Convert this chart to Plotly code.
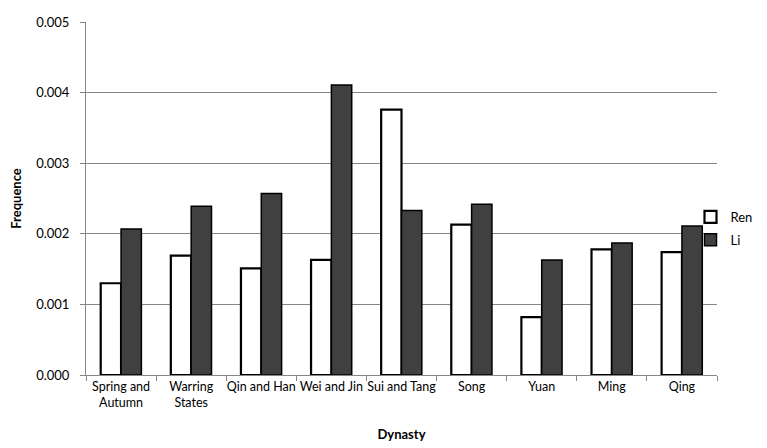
import plotly.graph_objects as go

categories = ["Spring and<br>Autumn", "Warring<br>States", "Qin and Han", "Wei and Jin",
              "Sui and Tang", "Song", "Yuan", "Ming", "Qing"]
ren = [0.00130, 0.00169, 0.00151, 0.00163, 0.00376, 0.00213, 0.00082, 0.00178, 0.00174]
li = [0.00207, 0.00239, 0.00257, 0.00411, 0.00233, 0.00242, 0.00163, 0.00187, 0.00211]

font = "Lato, 'Open Sans', sans-serif"

fig = go.Figure()
fig.add_trace(go.Bar(name="Ren", x=categories, y=ren, legendgroup="ren",
                     marker=dict(color="white", line=dict(color="black", width=2.2))))
fig.add_trace(go.Bar(name="Li", x=categories, y=li, legendgroup="li",
                     marker=dict(color="#404040", line=dict(color="black", width=1.5))))

fig.update_layout(
    width=767, height=448,
    margin=dict(l=78, r=58, t=14, b=81, autoexpand=False),
    plot_bgcolor="white", paper_bgcolor="white",
    barmode="group", bargap=0.42, bargroupgap=0,
    font=dict(family=font, size=13, color="black"),
    legend=dict(x=0.958, xanchor="left", y=0.415, yanchor="middle",
                font=dict(size=13), traceorder="grouped", tracegroupgap=3,
                itemwidth=30, bgcolor="rgba(0,0,0,0)"),
    xaxis=dict(
        showline=True, linecolor="#868686", linewidth=1,
        ticks="outside", tickson="boundaries", ticklen=5, tickcolor="#868686",
        tickangle=0,
        title=dict(text="<b>Dynasty</b>", font=dict(size=13), standoff=20),
        tickfont=dict(size=12.5),
    ),
    yaxis=dict(
        range=[0, 0.0050015], tickvals=[0, 0.001, 0.002, 0.003, 0.004, 0.005],
        tickformat=".3f",
        showgrid=True, gridcolor="#868686", gridwidth=1,
        showline=True, linecolor="#868686", linewidth=1,
        ticks="outside", ticklen=5, tickcolor="#868686",
        ticklabelstandoff=8,
        zeroline=False,
        title=dict(text="<b>Frequence</b>", font=dict(size=13), standoff=16),
        tickfont=dict(size=13),
    ),
)

fig.write_html("out.html")
